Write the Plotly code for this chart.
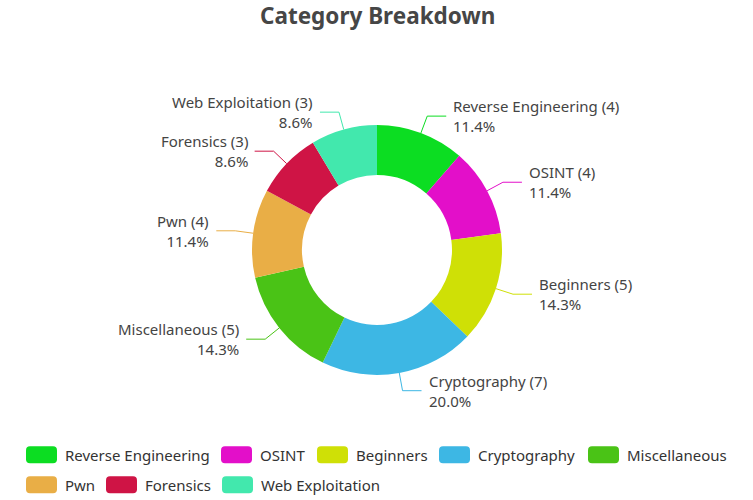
import math
import plotly.graph_objects as go

# ---------------- data ----------------
categories = ["Reverse Engineering", "OSINT", "Beginners", "Cryptography",
              "Miscellaneous", "Pwn", "Forensics", "Web Exploitation"]
counts = [4, 4, 5, 7, 5, 4, 3, 3]
colors = ["#0cdd22", "#e30fc9", "#cfe006", "#3db7e4",
          "#4ac316", "#e9ae46", "#cf1445", "#42e8ad"]
title_text = "Category Breakdown"

# ---------------- layout constants ----------------
W, H = 753, 500
CX, CY = 377, 250          # donut centre (px)
R = 125                    # outer radius (px)
HOLE = 0.6
BEND_R = 143               # leader line bend radius (px)
HSEG = 19                  # horizontal leader segment (px)
TGAP = 6                   # gap between leader end and label
FONT = "Noto Sans"
LABEL_SIZE = 15
LEG_SIZE = 15

legend_rows = [[0, 1, 2, 3, 4], [5, 6, 7]]
legend_row_y = [454.7, 484.7]
legend_left = 26
legend_icon_w, legend_icon_h = 31, 17
legend_icon_gap, legend_item_gap = 7, 13
legend_text_widths = [144, 45, 71, 98, 100, 29, 65, 122]


def px(x):
    return x / W


def py(y):
    return 1 - y / H


fig = go.Figure(go.Pie(
    labels=categories, values=counts, sort=False, direction="clockwise",
    rotation=0, hole=HOLE, textinfo="none", showlegend=False,
    marker=dict(colors=colors, line=dict(width=0)),
    domain=dict(x=[px(CX - R), px(CX + R)], y=[py(CY + R), py(CY - R)]),
))

shapes = []
annotations = []

total = sum(counts)
cum = 0
for name, v, col in zip(categories, counts, colors):
    theta = 2 * math.pi * (cum + v / 2) / total
    cum += v
    sx, sy = math.sin(theta), -math.cos(theta)
    x0, y0 = CX + R * sx, CY + R * sy
    x1, y1 = CX + BEND_R * sx, CY + BEND_R * sy
    side = 1 if sx >= 0 else -1
    x2 = x1 + side * HSEG
    shapes.append(dict(
        type="path", xref="paper", yref="paper",
        path=f"M {px(x0)} {py(y0)} L {px(x1)} {py(y1)} L {px(x2)} {py(y1)}",
        line=dict(color=col, width=1)))
    tx = x2 + side * TGAP
    anchor = "left" if side > 0 else "right"
    pct = f"{100 * v / total:.1f}%"
    annotations.append(dict(
        x=px(tx), y=py(y1), xref="paper", yref="paper",
        text=f"{name} ({v})<br>{pct}", align=anchor,
        showarrow=False, xanchor=anchor, yanchor="middle",
        font=dict(family=FONT, size=LABEL_SIZE, color="#444444"),
        borderpad=0))


def rounded_rect(x0, y0, x1, y1, r):
    pts = [
        ("M", x0 + r, y0), ("L", x1 - r, y0), ("Q", x1, y0, x1, y0 + r),
        ("L", x1, y1 - r), ("Q", x1, y1, x1 - r, y1), ("L", x0 + r, y1),
        ("Q", x0, y1, x0, y1 - r), ("L", x0, y0 + r), ("Q", x0, y0, x0 + r, y0),
    ]
    out = []
    for p in pts:
        cmd = p[0]
        coords = p[1:]
        s = []
        for i in range(0, len(coords), 2):
            s.append(f"{px(coords[i])},{py(coords[i + 1])}")
        out.append(cmd + " " + " ".join(s))
    return " ".join(out) + " Z"


for row, yc in zip(legend_rows, legend_row_y):
    x = legend_left
    for idx in row:
        shapes.append(dict(
            type="path", xref="paper", yref="paper",
            path=rounded_rect(x, yc - legend_icon_h / 2, x + legend_icon_w,
                              yc + legend_icon_h / 2, 4),
            fillcolor=colors[idx], line=dict(width=0)))
        tx = x + legend_icon_w + legend_icon_gap
        annotations.append(dict(
            x=px(tx), y=py(yc), xref="paper", yref="paper",
            text=categories[idx], showarrow=False, xanchor="left",
            yanchor="middle", borderpad=0,
            font=dict(family=FONT, size=LEG_SIZE, color="#333333")))
        x = tx + legend_text_widths[idx] + legend_item_gap

annotations.append(dict(
    x=px(CX), y=py(15), xref="paper", yref="paper",
    text=f"<b>{title_text}</b>", showarrow=False, xanchor="center",
    yanchor="middle",
    font=dict(family=FONT, size=22.5, color="#464646")))

fig.update_layout(
    width=W, height=H, margin=dict(l=0, r=0, t=0, b=0),
    paper_bgcolor="white", plot_bgcolor="white",
    shapes=shapes, annotations=annotations,
)

fig.write_html("out.html")
